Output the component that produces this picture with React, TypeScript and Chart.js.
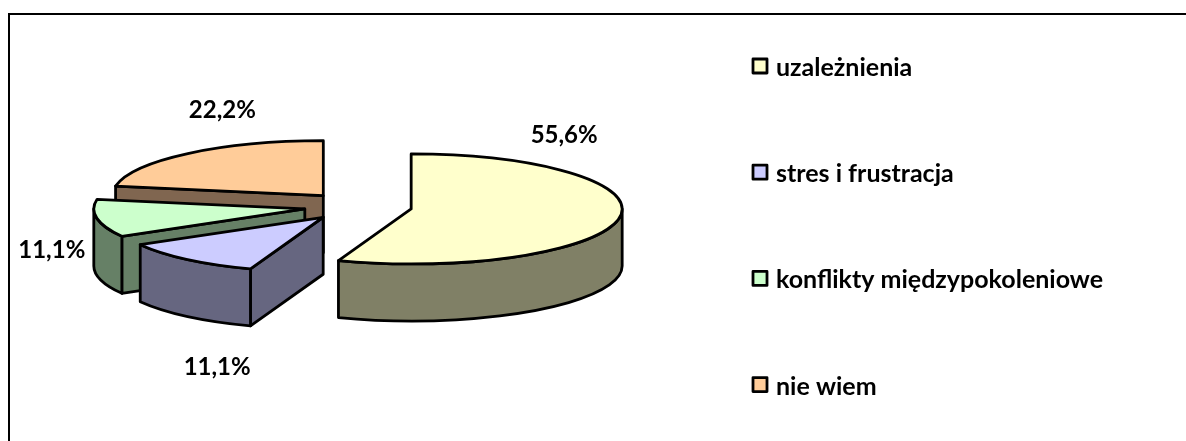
import React, { useEffect, useRef } from "react";
import { Chart, registerables } from "chart.js";

Chart.register(...registerables);

// Data
const categories = ["uzależnienia", "stres i frustracja", "konflikty międzypokoleniowe", "nie wiem"];
const percentages = [55.6, 11.1, 11.1, 22.2];
const topColors = ["#FFFFCC", "#CCCCFF", "#CCFFCC", "#FFCC99"];
const wallColors = ["#808066", "#666680", "#668066", "#806650"];

// Styling and projection
const WIDTH = 1186;
const HEIGHT = 441;
const RADIUS = 211;
const SQUASH = 0.2607; // vertical flattening of the pie plane
const DEPTH = 57; // wall height
const EXPLODE = 54; // radial pull-out of each slice, in pie-plane units
const PAINT_ORDER = [3, 2, 1, 0]; // back to front
const LABEL_FONT = 'bold 24px Lato, "Noto Sans", sans-serif';
const LEGEND_FONT = 'bold 25px Lato, "Noto Sans", sans-serif';
// label anchors relative to each slice's apex
const LABEL_SHIFT: [number, number][] = [[153, -74], [-106, 150], [-253, 41], [-101, -85]];
const LEGEND_BOX_X = 753;
const LEGEND_TEXT_X = 776;
const LEGEND_FIRST_Y = 66;
const LEGEND_STEP = 106.2;
const LEGEND_BOX = 14;

const pie3d = {
  id: "pie3d",
  beforeDraw(chart: any) {
    const { ctx } = chart;
    ctx.save();
    ctx.fillStyle = "#000";
    ctx.fillRect(8, 13, WIDTH - 8, 2);
    ctx.fillRect(8, 13, 2, HEIGHT - 13);
    ctx.restore();
  },
  beforeDatasetsDraw(chart: any) {
    const { ctx } = chart;
    const arcs = chart.getDatasetMeta(0).data;
    const apex = (a: any) => {
      const mid = (a.startAngle + a.endAngle) / 2;
      return {
        x: a.x + Math.cos(mid) * EXPLODE,
        y: a.y + Math.sin(mid) * EXPLODE * SQUASH,
      };
    };
    ctx.save();
    ctx.lineWidth = 2.8;
    ctx.lineJoin = "round";
    ctx.strokeStyle = "#000";

    for (const i of PAINT_ORDER) {
      const a = arcs[i];
      const { x, y } = apex(a);
      const s = a.startAngle;
      const e = a.endAngle;
      const R = a.outerRadius;
      const ry = R * SQUASH;
      ctx.fillStyle = wallColors[i];

      // cut face on the starting side, when it turns towards the viewer
      if (-Math.cos(s) > 1e-6) {
        const px = x + Math.cos(s) * R;
        const py = y + Math.sin(s) * ry;
        ctx.beginPath();
        ctx.moveTo(x, y);
        ctx.lineTo(px, py);
        ctx.lineTo(px, py + DEPTH);
        ctx.lineTo(x, y + DEPTH);
        ctx.closePath();
        ctx.fill();
        ctx.stroke();
      }
      // cut face on the ending side
      if (Math.cos(e) > 1e-6) {
        const px = x + Math.cos(e) * R;
        const py = y + Math.sin(e) * ry;
        ctx.beginPath();
        ctx.moveTo(x, y);
        ctx.lineTo(px, py);
        ctx.lineTo(px, py + DEPTH);
        ctx.lineTo(x, y + DEPTH);
        ctx.closePath();
        ctx.fill();
        ctx.stroke();
      }
      // outer wall: the part of the rim on the viewer's side
      const wallStart = Math.max(s, 0);
      const wallEnd = Math.min(e, Math.PI);
      if (wallEnd > wallStart) {
        ctx.beginPath();
        ctx.ellipse(x, y, R, ry, 0, wallStart, wallEnd);
        ctx.ellipse(x, y + DEPTH, R, ry, 0, wallEnd, wallStart, true);
        ctx.closePath();
        ctx.fill();
        ctx.stroke();
      }
      // top face: the library's own arc, flattened onto the pie plane
      ctx.save();
      ctx.translate(x, y);
      ctx.scale(1, SQUASH);
      ctx.translate(-a.x, -a.y);
      a.draw(ctx);
      ctx.restore();
      ctx.beginPath();
      ctx.moveTo(x, y);
      ctx.ellipse(x, y, R, ry, 0, s, e);
      ctx.closePath();
      ctx.stroke();
    }

    // value labels
    ctx.fillStyle = "#000";
    ctx.font = LABEL_FONT;
    ctx.textAlign = "center";
    ctx.textBaseline = "middle";
    arcs.forEach((a: any, i: number) => {
      const { x, y } = apex(a);
      const text = percentages[i].toFixed(1).replace(".", ",") + "%";
      ctx.fillText(text, x + LABEL_SHIFT[i][0], y + LABEL_SHIFT[i][1]);
    });

    // legend
    ctx.font = LEGEND_FONT;
    ctx.textAlign = "left";
    ctx.textBaseline = "alphabetic";
    categories.forEach((label, i) => {
      const cy = LEGEND_FIRST_Y + i * LEGEND_STEP;
      ctx.fillStyle = topColors[i];
      ctx.beginPath();
      ctx.rect(LEGEND_BOX_X, cy - LEGEND_BOX / 2, LEGEND_BOX, LEGEND_BOX);
      ctx.fill();
      ctx.stroke();
      ctx.fillStyle = "#000";
      ctx.fillText(label, LEGEND_TEXT_X, cy + 10);
    });
    ctx.restore();
    return false;
  },
};

export default function App() {
  const ref = useRef<HTMLCanvasElement>(null);
  useEffect(() => {
    const chart = new Chart(ref.current!, {
      type: "pie",
      data: {
        labels: categories,
        datasets: [{ data: percentages, backgroundColor: topColors, borderWidth: 0 }],
      },
      options: {
        responsive: false,
        animation: false,
        radius: RADIUS,
        layout: { padding: { left: 0, right: 470, top: 0, bottom: 28 } },
        plugins: { legend: { display: false }, tooltip: { enabled: false } },
      } as any,
      plugins: [pie3d as any],
    });
    return () => chart.destroy();
  }, []);
  return (
    <div style={{ position: "absolute", left: 0, top: 0 }}>
      <canvas ref={ref} width={WIDTH} height={HEIGHT} style={{ display: "block" }} />
    </div>
  );
}
